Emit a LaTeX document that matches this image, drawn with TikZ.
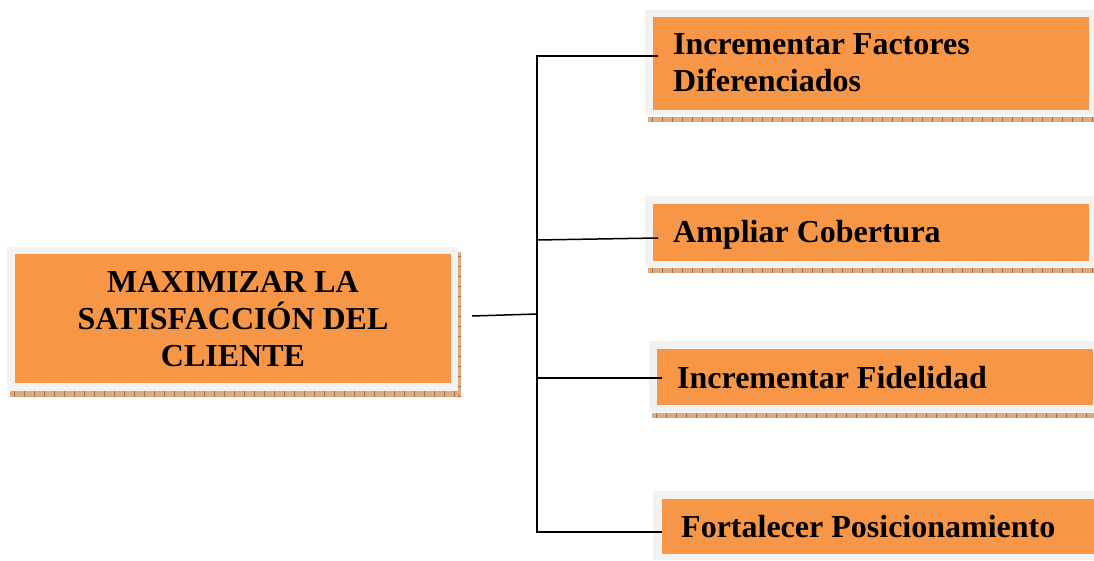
\documentclass[tikz,border=0pt]{standalone}
\usepackage{fontspec}
\setmainfont{Liberation Serif}
\definecolor{boxorange}{HTML}{F79646}
\definecolor{framegrey}{HTML}{F2F2F2}
\definecolor{shadetan}{RGB}{219,172,132}
\definecolor{shadetick}{RGB}{176,108,62}
\tikzset{
  frame/.style={draw=none, fill=framegrey, inner sep=0pt, anchor=north west},
  obox/.style={draw=none, fill=boxorange, inner sep=0pt, anchor=north west},
  lbl/.style={inner sep=0pt, font=\fontsize{32}{37}\selectfont\bfseries, text=black},
  conn/.style={draw=black, line width=1.5pt}
}
% textured drop-shadow strip: horizontal (ticks vertical)
\newcommand\hstrip[4]{%
  \fill[shadetan] (#1,#2) rectangle (#3,#4);
  \begin{scope}
    \clip (#1,#2) rectangle (#3,#4);
    \foreach \i in {0,...,48} \draw[shadetick, line width=0.7pt] ({#1+4+10*\i},#2) -- ({#1+4+10*\i},#4);
  \end{scope}}
% textured drop-shadow strip: vertical (ticks horizontal)
\newcommand\vstrip[4]{%
  \fill[shadetan] (#1,#2) rectangle (#3,#4);
  \begin{scope}
    \clip (#1,#2) rectangle (#3,#4);
    \foreach \i in {0,...,16} \draw[shadetick, line width=0.7pt] (#1,{#2+4+10*\i}) -- (#3,{#2+4+10*\i});
  \end{scope}}
\begin{document}
\begin{tikzpicture}[x=1pt,y=-1pt]
\useasboundingbox (0,0) rectangle (1094,561);
\fill[white] (0,0) rectangle (1094,561);

% shadows
\hstrip{10}{391}{461}{397}
\vstrip{458}{252}{461}{397}
\hstrip{648}{117}{1094}{122}
\hstrip{648}{268}{1094}{273}
\hstrip{652}{413}{1094}{418}

% main box
\node[frame, minimum width=451pt, minimum height=144pt] (mf) at (7,247) {};
\node[obox, minimum width=436pt, minimum height=129pt] (m) at (15,254) {};
\node[lbl, align=center] (mt) at (233,319.5) {MAXIMIZAR LA\\SATISFACCIÓN DEL\\CLIENTE};

% goal boxes
\node[frame, minimum width=449pt, minimum height=105pt] (f1) at (645,10) {};
\node[obox, minimum width=436pt, minimum height=93pt] (o1) at (653,17) {};
\node[lbl, align=left, anchor=north west] (t1) at (673,33.8) {Incrementar Factores\\Diferenciados};

\node[frame, minimum width=449pt, minimum height=71pt] (f2) at (645,196) {};
\node[obox, minimum width=436pt, minimum height=57pt] (o2) at (653,204) {};
\node[lbl, anchor=base west] (t2) at (673,243) {Ampliar Cobertura};

\node[frame, minimum width=445pt, minimum height=71pt] (f3) at (649,341) {};
\node[obox, minimum width=436pt, minimum height=56pt] (o3) at (657,349) {};
\node[lbl, anchor=base west] (t3) at (677,388) {Incrementar Fidelidad};

\node[frame, minimum width=441pt, minimum height=69pt] (f4) at (653,491) {};
\node[obox, minimum width=432pt, minimum height=55pt] (o4) at (662,499) {};
\node[lbl, anchor=base west] (t4) at (681,537) {Fortalecer Posicionamiento};

% connector end points
\coordinate (s0) at (472,316);
\coordinate (h0) at (537,314);
\coordinate (h1) at (537,56);
\coordinate (h2) at (537,240);
\coordinate (h3) at (537,378);
\coordinate (h4) at (537,532);
\coordinate (e1) at (658,56);
\coordinate (e2) at (658,238);
\coordinate (e3) at (662,378);
\coordinate (e4) at (662,532);

% connectors
\draw[conn] (s0) -- (h0);
\draw[conn, line join=miter] (e1) -- (h1) -- (h4) -- (e4);
\draw[conn] (h2) -- (e2);
\draw[conn] (h3) -- (e3);
\end{tikzpicture}
\end{document}
